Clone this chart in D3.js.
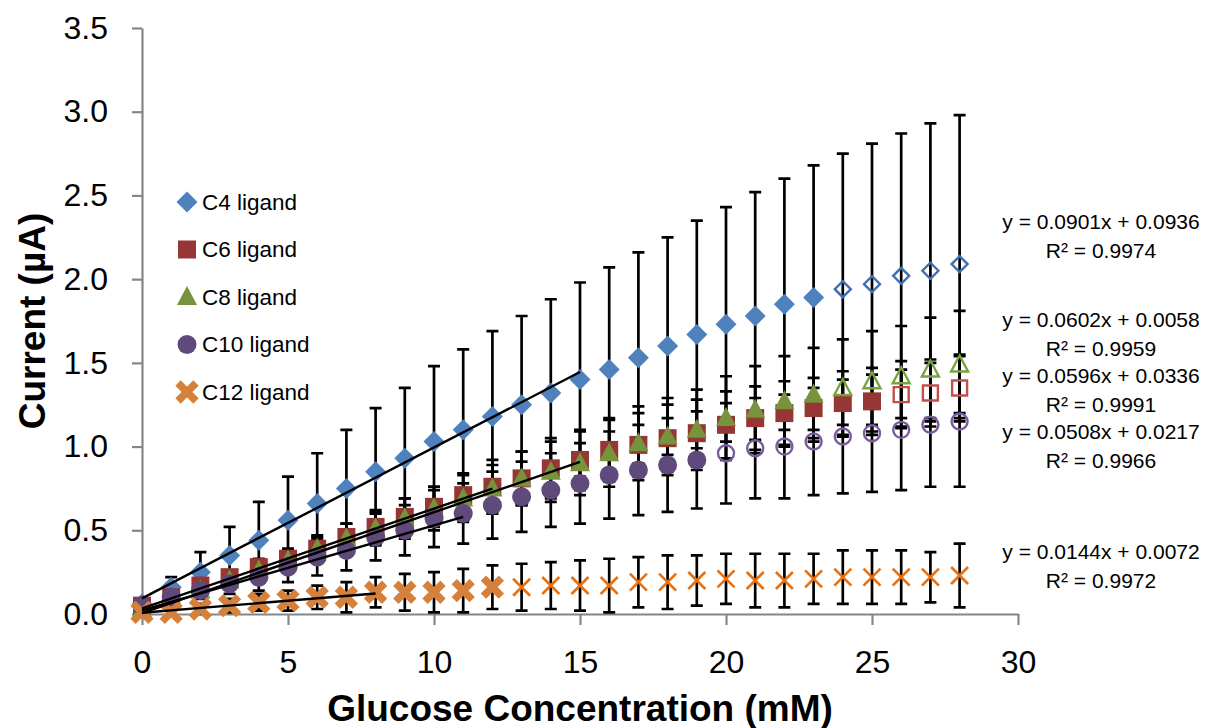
<!DOCTYPE html>
<html>
<head>
<meta charset="utf-8">
<script src="https://cdn.jsdelivr.net/npm/d3@7"></script>
<style>
  body { margin: 0; background: #fff; }
  svg { display: block; }
  text { font-family: "Liberation Sans", Arial, sans-serif; fill: #000; }
</style>
</head>
<body>
<svg id="chart" width="1205" height="728"></svg>
<script>
// Glucose concentration (mM)
const concentrations = [0,1,2,3,4,5,6,7,8,9,10,11,12,13,14,15,16,17,18,19,20,21,22,23,24,25,26,27,28];

// Mean current (µA) for each ligand
const c4Current  = [0.06,0.16,0.25,0.35,0.44,0.56,0.66,0.75,0.85,0.93,1.03,1.10,1.18,1.25,1.32,1.40,1.46,1.53,1.60,1.67,1.73,1.78,1.85,1.89,1.94,1.97,2.02,2.05,2.09];
const c6Current  = [0.05,0.10,0.17,0.22,0.28,0.33,0.39,0.46,0.52,0.58,0.64,0.71,0.76,0.81,0.87,0.92,0.98,1.01,1.05,1.08,1.13,1.17,1.20,1.23,1.26,1.27,1.31,1.32,1.35];
const c8Current  = [0.03,0.08,0.14,0.20,0.26,0.32,0.39,0.45,0.51,0.57,0.63,0.69,0.75,0.81,0.85,0.90,0.96,1.02,1.06,1.10,1.17,1.22,1.27,1.31,1.35,1.39,1.42,1.46,1.49];
const c10Current = [0.05,0.10,0.14,0.18,0.22,0.28,0.34,0.38,0.46,0.50,0.57,0.60,0.65,0.70,0.74,0.78,0.83,0.86,0.89,0.92,0.96,0.99,1.00,1.03,1.06,1.08,1.10,1.13,1.15];
const c12Current = [0.01,0.01,0.03,0.05,0.07,0.08,0.10,0.10,0.13,0.13,0.13,0.14,0.16,0.16,0.17,0.17,0.17,0.19,0.19,0.20,0.21,0.20,0.20,0.21,0.22,0.22,0.22,0.22,0.23];

// Standard deviation (µA)
const c4Error  = [0.01,0.06,0.12,0.17,0.23,0.26,0.30,0.35,0.38,0.42,0.45,0.48,0.51,0.53,0.56,0.58,0.61,0.63,0.65,0.68,0.70,0.74,0.75,0.79,0.81,0.84,0.85,0.88,0.89];
const c6Error  = [0.01,0.02,0.03,0.04,0.05,0.06,0.07,0.08,0.10,0.11,0.12,0.13,0.16,0.16,0.18,0.18,0.19,0.19,0.20,0.20,0.20,0.19,0.19,0.18,0.19,0.20,0.20,0.20,0.20];
const c8Error  = [0.01,0.02,0.03,0.04,0.05,0.06,0.08,0.09,0.10,0.12,0.13,0.14,0.14,0.16,0.18,0.19,0.20,0.22,0.23,0.24,0.25,0.26,0.27,0.28,0.29,0.30,0.30,0.31,0.32];
const c10Error = [0.01,0.03,0.05,0.06,0.08,0.09,0.11,0.12,0.14,0.15,0.17,0.18,0.20,0.21,0.22,0.24,0.26,0.27,0.28,0.29,0.30,0.30,0.31,0.32,0.34,0.35,0.36,0.37,0.39];
const c12Error = [0.01,0.02,0.03,0.04,0.05,0.06,0.07,0.09,0.09,0.11,0.12,0.13,0.13,0.14,0.14,0.15,0.16,0.15,0.16,0.15,0.15,0.16,0.16,0.15,0.16,0.16,0.16,0.15,0.19];

const seriesNames = ["C4 ligand", "C6 ligand", "C8 ligand", "C10 ligand", "C12 ligand"];
// Points from this index on lie outside the linear range (open markers)
const linearLimit = [15, 15, 12, 11, 8];
const firstOpenPoint = [24, 26, 24, 20, 13];

// Linear fits over the linear range
const fitSlopes     = [0.0901, 0.0602, 0.0596, 0.0508, 0.0144];
const fitIntercepts = [0.0936, 0.0058, 0.0336, 0.0217, 0.0072];
const fitR2         = ["0.9974", "0.9959", "0.9991", "0.9966", "0.9972"];

const xTicks = [0, 5, 10, 15, 20, 25, 30];
const yTicks = [0, 0.5, 1.0, 1.5, 2.0, 2.5, 3.0, 3.5];

// ---- drawing ----
const currents = [c4Current, c6Current, c8Current, c10Current, c12Current];
const errors = [c4Error, c6Error, c8Error, c10Error, c12Error];
const fillColors = ["#4f81bd", "#953735", "#77933c", "#604a7b", "#d5813b"];
const openColors = ["#3f70b2", "#c0504d", "#78a23e", "#7a5c9e", "#e8700f"];
const shapes = ["diamond", "square", "triangle", "circle", "cross"];

const svg = d3.select("#chart");
const x = d3.scaleLinear().domain([0, 30]).range([142, 1018]);
const y = d3.scaleLinear().domain([0, 3.5]).range([614, 28]);

function markerPath(shape, open) {
  if (shape === "diamond") { const r = open ? 8 : 10.5; return `M0,${-r}L${r},0L0,${r}L${-r},0Z`; }
  if (shape === "square")  { const h = open ? 7.5 : 9; return `M${-h},${-h}H${h}V${h}H${-h}Z`; }
  if (shape === "triangle"){ const w = open ? 8.5 : 10, t = open ? 9 : 11, b = open ? 7 : 8; return `M0,${-t}L${w},${b}L${-w},${b}Z`; }
  if (shape === "cross")   { const r = open ? 8.5 : 9; return `M${-r},${-r}L${r},${r}M${-r},${r}L${r},${-r}`; }
  return null;
}

function drawMarker(g, shape, open, i) {
  const color = open ? openColors[i] : fillColors[i];
  if (shape === "circle") {
    g.append("circle").attr("r", open ? 8 : 9.5)
      .attr("fill", open ? "none" : color)
      .attr("stroke", open ? color : "none").attr("stroke-width", 2.4);
  } else if (shape === "cross") {
    g.append("path").attr("d", markerPath(shape, open)).attr("fill", "none")
      .attr("stroke", color).attr("stroke-width", open ? 2.6 : 7.5);
  } else {
    g.append("path").attr("d", markerPath(shape, open))
      .attr("fill", open ? "none" : color)
      .attr("stroke", open ? color : "none").attr("stroke-width", 2.4);
  }
}

// Axes
const axisColor = "#868686";
const yAxis = svg.append("g").attr("transform", `translate(${x(0)},0)`)
  .call(d3.axisLeft(y).tickValues(yTicks).tickFormat(d3.format(".1f")).tickSize(10).tickSizeOuter(0).tickPadding(24));
const xAxis = svg.append("g").attr("transform", `translate(0,${y(0)})`)
  .call(d3.axisBottom(x).tickValues(xTicks).tickFormat(d3.format("d")).tickSize(11).tickSizeOuter(0).tickPadding(25));
[yAxis, xAxis].forEach(a => {
  a.select(".domain").attr("stroke", axisColor).attr("stroke-width", 2.2);
  a.selectAll(".tick line").attr("stroke", axisColor).attr("stroke-width", 2.2);
  a.selectAll(".tick text").attr("font-size", 32).attr("font-family", "Liberation Sans, Arial, sans-serif").attr("fill", "#000");
});

// Error bars
const capHalf = 6;
const errLayer = svg.append("g").attr("stroke", "#000").attr("stroke-width", 2.7).attr("fill", "none");
currents.forEach((vals, i) => {
  vals.forEach((v, k) => {
    const cx = x(concentrations[k]);
    const top = y(v + errors[i][k]), bot = y(v - errors[i][k]);
    errLayer.append("path").attr("d", `M${cx},${top}V${bot}M${cx - capHalf},${top}H${cx + capHalf}M${cx - capHalf},${bot}H${cx + capHalf}`);
  });
});

// Markers
currents.forEach((vals, i) => {
  const layer = svg.append("g");
  vals.forEach((v, k) => {
    const g = layer.append("g").attr("transform", `translate(${x(concentrations[k])},${y(v)})`);
    drawMarker(g, shapes[i], k >= firstOpenPoint[i], i);
  });
});

// Trend lines over the linear range
fitSlopes.forEach((m, i) => {
  svg.append("line")
    .attr("x1", x(0)).attr("y1", y(fitIntercepts[i]))
    .attr("x2", x(linearLimit[i])).attr("y2", y(m * linearLimit[i] + fitIntercepts[i]))
    .attr("stroke", "#000").attr("stroke-width", 2.4);
});

// Legend
const legend = svg.append("g").attr("transform", "translate(187,202)");
seriesNames.forEach((name, i) => {
  const row = legend.append("g").attr("transform", `translate(0,${i * 47.5})`);
  drawMarker(row, shapes[i], false, i);
  row.append("text").attr("x", 15).attr("dy", "0.35em").attr("font-size", 22.5).text(name);
});

// Fit equations
const eqCenters = [222, 320, 376, 432, 552];
fitSlopes.forEach((m, i) => {
  const g = svg.append("g").attr("transform", `translate(1101,${eqCenters[i]})`);
  g.append("text").attr("text-anchor", "middle").attr("dy", "0.35em").attr("font-size", 21)
    .text(`y = ${m.toFixed(4)}x + ${fitIntercepts[i].toFixed(4)}`);
  g.append("text").attr("text-anchor", "middle").attr("y", 29).attr("dy", "0.35em").attr("font-size", 21)
    .text(`R² = ${fitR2[i]}`);
});

// Axis titles
svg.append("text").attr("x", 580).attr("y", 721).attr("text-anchor", "middle")
  .attr("font-size", 37).attr("font-weight", "bold").text("Glucose Concentration (mM)");
svg.append("text").attr("transform", "translate(45,321) rotate(-90)").attr("text-anchor", "middle")
  .attr("font-size", 37).attr("font-weight", "bold").text("Current (µA)");
</script>
</body>
</html>
